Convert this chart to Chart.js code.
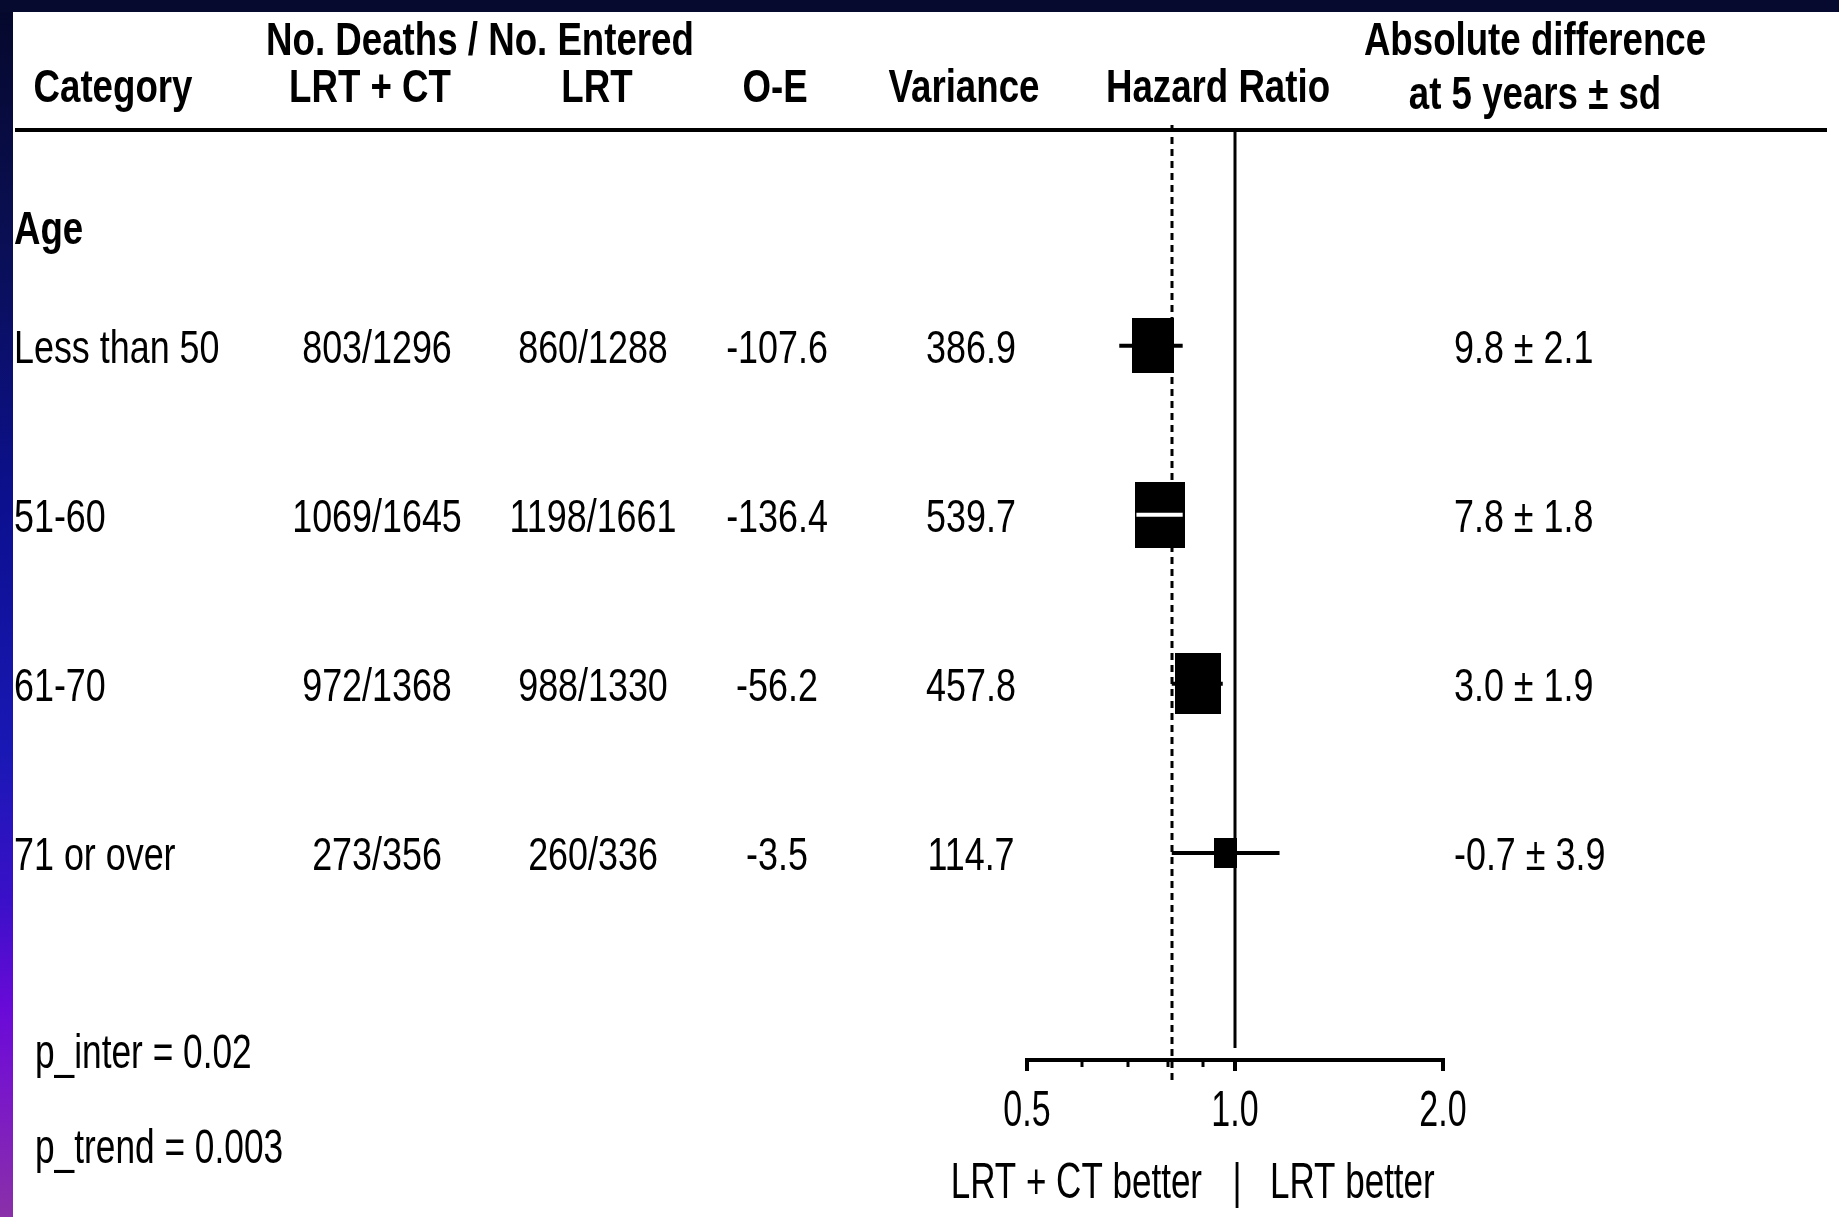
<!DOCTYPE html>
<html lang="en">
<head>
<meta charset="UTF-8">
<title>Hazard ratio by age - LRT + CT vs LRT</title>
<script src="https://cdn.jsdelivr.net/npm/chart.js"></script>
<style>
  html, body { margin: 0; padding: 0; background: #fff; overflow: hidden; }
  #wrap { width: 1839px; height: 1217px; }
</style>
</head>
<body>
<div id="wrap"><canvas id="forest" width="1839" height="1217"></canvas></div>
<script>
// table rows
const groupLabel = 'Age';
const categories = ['Less than 50', '51-60', '61-70', '71 or over'];
const lrtCtDeaths = [803, 1069, 972, 273];
const lrtCtEntered = [1296, 1645, 1368, 356];
const lrtDeaths = [860, 1198, 988, 260];
const lrtEntered = [1288, 1661, 1330, 336];
const oMinusE = [-107.6, -136.4, -56.2, -3.5];
const variance = [386.9, 539.7, 457.8, 114.7];
const absDiff = [9.8, 7.8, 3.0, -0.7];
const absDiffSd = [2.1, 1.8, 1.9, 3.9];

// hazard ratios
const hazardRatio = [0.76, 0.78, 0.885, 0.97];
const ciLower = [0.68, 0.72, 0.81, 0.81];
const ciUpper = [0.84, 0.84, 0.96, 1.16];
const overallHR = 0.81;

// axis
const xTicks = [0.5, 1, 2];
const xTickLabels = ['0.5', '1.0', '2.0'];
const xMinorTicks = [0.6, 0.7, 0.8, 0.9];

const pInter = '0.02';
const pTrend = '0.003';

const FONT = '"Liberation Sans", Arial, Helvetica, sans-serif';
const rows = categories.map((c, i) => i + 1);

// squeezed text, like the narrow font of the slide
function txt(ctx, s, x, y, size, bold, sx, align) {
  ctx.save();
  ctx.translate(x, y);
  ctx.scale(sx, 1);
  ctx.font = (bold ? 'bold ' : '') + size + 'px ' + FONT;
  ctx.textAlign = align || 'left';
  ctx.textBaseline = 'alphabetic';
  ctx.fillStyle = '#000';
  ctx.fillText(s, 0, 0);
  ctx.restore();
}

// box side grows with the square root of the variance
function boxWidth(i) { return Math.round(2.15 * Math.sqrt(variance[i])); }
const boxes = categories.map((c, i) => {
  const cv = document.createElement('canvas');
  const w = boxWidth(i), h = Math.round(w * 1.32);
  cv.width = w; cv.height = h;
  const g = cv.getContext('2d');
  g.fillStyle = '#000';
  g.fillRect(0, 0, w, h);
  return cv;
});

function ciInside(chart, i) {
  const xs = chart.scales.x;
  if (!xs) return false;
  const span = xs.getPixelForValue(ciUpper[i]) - xs.getPixelForValue(ciLower[i]);
  return span <= boxWidth(i);
}

const frame = {
  id: 'frame',
  beforeDraw(chart) {
    const ctx = chart.ctx, W = chart.width, H = chart.height;
    ctx.save();
    ctx.fillStyle = '#fff';
    ctx.fillRect(0, 0, W, H);
    const g = ctx.createLinearGradient(0, 0, 0, H);
    g.addColorStop(0, '#05082a');
    g.addColorStop(0.2, '#0a0f55');
    g.addColorStop(0.42, '#0c1090');
    g.addColorStop(0.62, '#1a18b5');
    g.addColorStop(0.74, '#3a10c8');
    g.addColorStop(0.83, '#6a0ad8');
    g.addColorStop(0.9, '#7a18c8');
    g.addColorStop(1, '#8a30a8');
    ctx.fillStyle = g;
    ctx.fillRect(0, 0, 13, H);
    ctx.fillStyle = '#060a2e';
    ctx.fillRect(0, 0, W, 12);
    ctx.restore();
  }
};

const refLines = {
  id: 'refLines',
  beforeDatasetsDraw(chart) {
    const ctx = chart.ctx, a = chart.chartArea, xs = chart.scales.x;
    ctx.save();
    ctx.strokeStyle = '#000';
    const x1 = Math.round(xs.getPixelForValue(1));
    ctx.lineWidth = 3;
    ctx.beginPath();
    ctx.moveTo(x1, a.top);
    ctx.lineTo(x1, a.bottom - 12);
    ctx.stroke();
    const xd = Math.round(xs.getPixelForValue(overallHR));
    ctx.setLineDash([7, 5]);
    ctx.beginPath();
    ctx.moveTo(xd, a.top - 6);
    ctx.lineTo(xd, a.bottom + 22);
    ctx.stroke();
    ctx.restore();
  },
  afterDatasetsDraw(chart) {
    const ctx = chart.ctx, a = chart.chartArea, xs = chart.scales.x;
    const y0 = a.bottom;
    ctx.save();
    ctx.strokeStyle = '#000';
    ctx.lineWidth = 4;
    ctx.beginPath();
    ctx.moveTo(xs.getPixelForValue(xTicks[0]) - 2, y0);
    ctx.lineTo(xs.getPixelForValue(xTicks[xTicks.length - 1]) + 2, y0);
    ctx.stroke();
    xTicks.forEach((t, i) => {
      const px = Math.round(xs.getPixelForValue(t));
      ctx.lineWidth = 4;
      ctx.beginPath();
      ctx.moveTo(px, y0);
      ctx.lineTo(px, y0 + 11);
      ctx.stroke();
      txt(ctx, xTickLabels[i], px, y0 + 66, 50, false, 0.68, 'center');
    });
    xMinorTicks.forEach(t => {
      const px = Math.round(xs.getPixelForValue(t));
      ctx.lineWidth = 3;
      ctx.beginPath();
      ctx.moveTo(px, y0);
      ctx.lineTo(px, y0 + 7);
      ctx.stroke();
    });
    const x1 = xs.getPixelForValue(1);
    txt(ctx, 'LRT + CT better', x1 - 33, y0 + 138, 50, false, 0.7, 'right');
    txt(ctx, '|', x1 + 2, y0 + 138, 50, false, 0.7, 'center');
    txt(ctx, 'LRT better', x1 + 35, y0 + 138, 50, false, 0.7, 'left');
    ctx.restore();
  }
};

const table = {
  id: 'table',
  afterDraw(chart) {
    const ctx = chart.ctx, ys = chart.scales.y;
    const hs = 47, hx = 0.78;
    // header
    txt(ctx, 'No. Deaths / No. Entered', 480, 55, hs, true, hx, 'center');
    txt(ctx, 'Absolute difference', 1535, 55, hs, true, hx, 'center');
    txt(ctx, 'Category', 113, 102, hs, true, hx, 'center');
    txt(ctx, 'LRT + CT', 370, 102, hs, true, hx, 'center');
    txt(ctx, 'LRT', 597, 102, hs, true, hx, 'center');
    txt(ctx, 'O-E', 775, 102, hs, true, hx, 'center');
    txt(ctx, 'Variance', 964, 102, hs, true, hx, 'center');
    txt(ctx, 'Hazard Ratio', 1218, 102, hs, true, hx, 'center');
    txt(ctx, 'at 5 years \u00b1 sd', 1535, 109, hs, true, hx, 'center');
    ctx.save();
    ctx.fillStyle = '#000';
    ctx.fillRect(15, 128, 1812, 4);
    ctx.restore();

    txt(ctx, groupLabel, 14, ys.getPixelForValue(0.3) + 17, hs, true, hx, 'left');
    const bs = 46, bx = 0.78;
    rows.forEach((r, i) => {
      const y = ys.getPixelForValue(r) + 17;
      txt(ctx, categories[i], 14, y, bs, false, bx, 'left');
      txt(ctx, lrtCtDeaths[i] + '/' + lrtCtEntered[i], 377, y, bs, false, bx, 'center');
      txt(ctx, lrtDeaths[i] + '/' + lrtEntered[i], 593, y, bs, false, bx, 'center');
      txt(ctx, oMinusE[i].toFixed(1), 777, y, bs, false, bx, 'center');
      txt(ctx, variance[i].toFixed(1), 971, y, bs, false, bx, 'center');
      txt(ctx, absDiff[i].toFixed(1) + ' \u00b1 ' + absDiffSd[i].toFixed(1), 1454, y, bs, false, bx, 'left');
    });

    txt(ctx, 'p_inter = ' + pInter, 35, 1068, 49, false, 0.72, 'left');
    txt(ctx, 'p_trend = ' + pTrend, 35, 1163, 49, false, 0.72, 'left');
  }
};

const ciSets = rows.map((r, i) => ({
  label: 'CI ' + categories[i],
  data: [{ x: ciLower[i], y: r }, { x: ciUpper[i], y: r }],
  showLine: true,
  borderWidth: 4,
  borderColor: ctx => ciInside(ctx.chart, i) ? '#fff' : '#000',
  pointRadius: 0,
  order: 0
}));

new Chart(document.getElementById('forest'), {
  type: 'scatter',
  data: {
    datasets: [{
      label: 'Hazard ratio',
      data: rows.map((r, i) => ({ x: hazardRatio[i], y: r })),
      pointStyle: ctx => boxes[ctx.dataIndex],
      pointRadius: 5,
      order: 1
    }].concat(ciSets)
  },
  options: {
    responsive: false,
    devicePixelRatio: 1,
    animation: false,
    events: [],
    layout: { padding: { left: 1027, right: 396, top: 131, bottom: 157 } },
    scales: {
      x: { type: 'logarithmic', min: 0.5, max: 2, display: false },
      y: { type: 'linear', min: -0.27, max: 5.225, reverse: true, display: false }
    },
    plugins: { legend: { display: false }, tooltip: { enabled: false } }
  },
  plugins: [frame, refLines, table]
});
</script>
</body>
</html>
